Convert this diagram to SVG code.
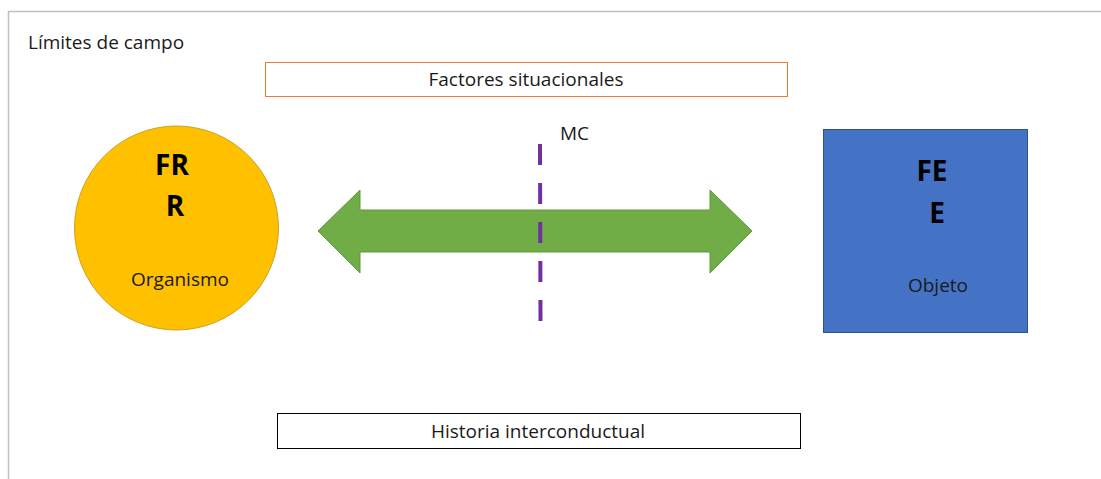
<svg xmlns="http://www.w3.org/2000/svg" width="1101" height="479" viewBox="0 0 1101 479">
  <style>
    .t { font-family: "Open Sans", "Liberation Sans", sans-serif; fill: #1a1a1a; }
    .lbl { font-size: 19px; }
    .big { font-family: "Open Sans", "Liberation Sans", sans-serif; font-size: 28px; font-weight: bold; fill: #000; }
  </style>
  <rect width="1101" height="479" fill="#ffffff"/>
  <path d="M8.5,479 V11.5 H1101" fill="none" stroke="#bfbfbf" stroke-width="1.5"/>
  <text class="t lbl" x="28" y="49">Límites de campo</text>

  <g id="factores">
    <rect x="265.5" y="62.5" width="522" height="34" fill="#ffffff" stroke="#ed7d31" stroke-width="1"/>
    <text class="t lbl" x="526" y="86" text-anchor="middle">Factores situacionales</text>
  </g>

  <g id="historia">
    <rect x="277.5" y="413.5" width="523" height="35" fill="#ffffff" stroke="#000000" stroke-width="1"/>
    <text class="t lbl" x="538" y="438" text-anchor="middle">Historia interconductual</text>
  </g>

  <g id="organismo">
    <circle cx="176.5" cy="228" r="102" fill="#ffc000" stroke="#c9a227" stroke-width="1"/>
    <text class="big" x="172" y="175" text-anchor="middle">FR</text>
    <text class="big" x="175" y="216" text-anchor="middle">R</text>
    <text class="t lbl" x="180" y="286" text-anchor="middle">Organismo</text>
  </g>

  <g id="objeto">
    <rect x="823.5" y="129.5" width="204" height="203" fill="#4472c4" stroke="#2f528f" stroke-width="1"/>
    <text class="big" x="932" y="181" text-anchor="middle">FE</text>
    <text class="big" x="937" y="223" text-anchor="middle">E</text>
    <text class="t lbl" x="938" y="292" text-anchor="middle">Objeto</text>
  </g>

  <g id="connectors">
    <path d="M318,231 L360,190 L360,210 L710,210 L710,190 L752,231 L710,273 L710,252 L360,252 L360,273 Z" fill="#70ad47" stroke="#5e9a3a" stroke-width="1"/>
    <line x1="540" y1="144" x2="540.5" y2="321" stroke="#7030a0" stroke-width="4" stroke-dasharray="21,18"/>
    <text class="t lbl" x="560" y="140">MC</text>
  </g>
</svg>
